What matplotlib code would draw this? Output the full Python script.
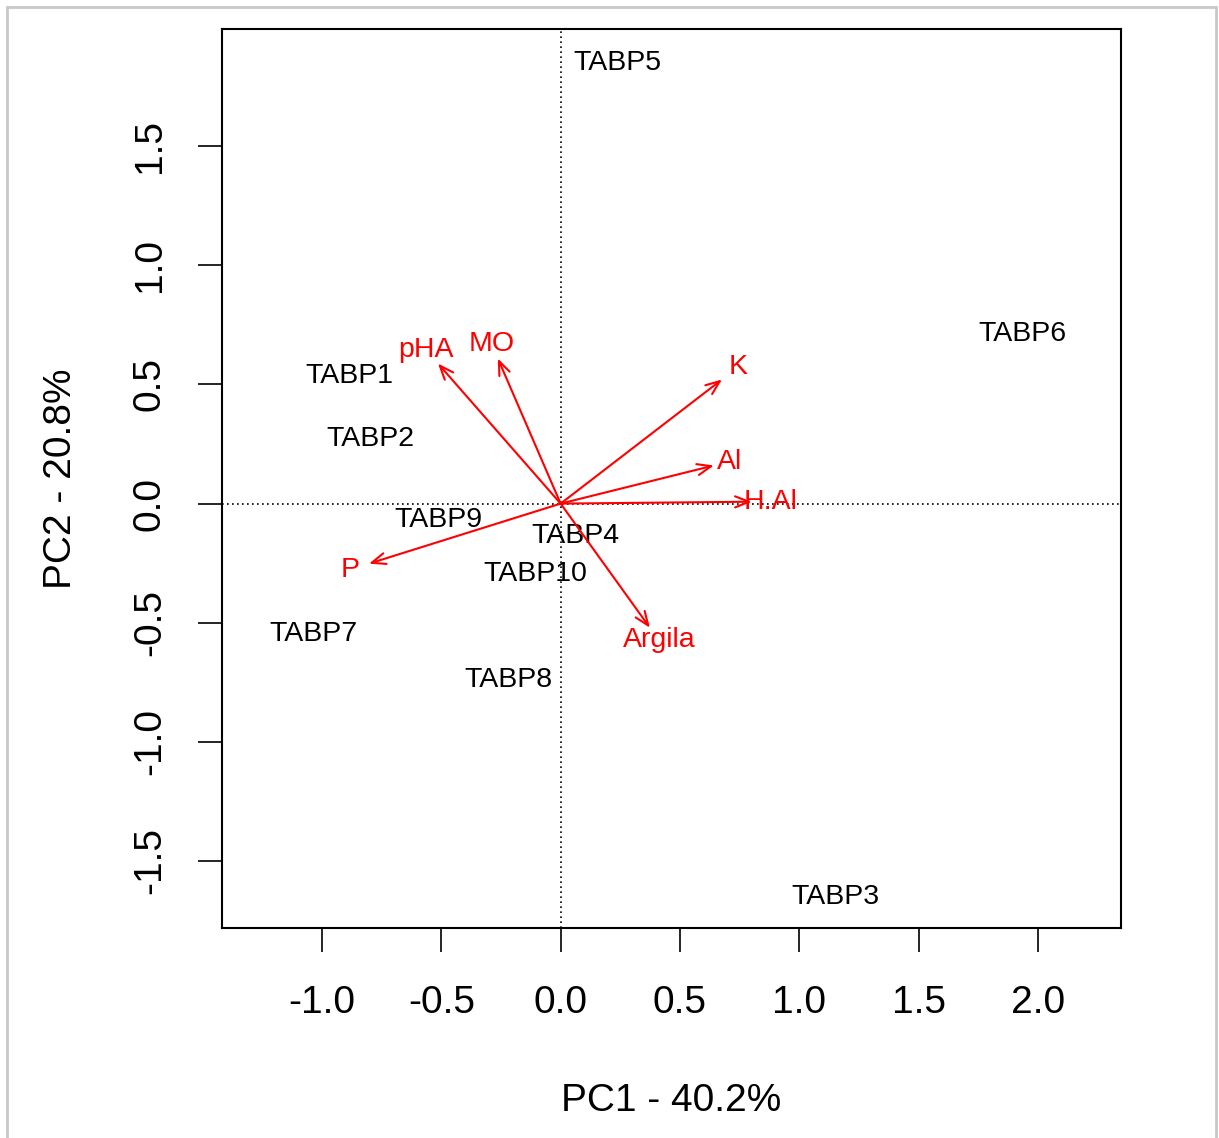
import matplotlib.pyplot as plt
from matplotlib.patches import Rectangle

plt.rcParams['font.family'] = ['Liberation Sans', 'DejaVu Sans']

# Escores das amostras (PC1, PC2)
amostras = ['TABP1', 'TABP2', 'TABP3', 'TABP4', 'TABP5',
            'TABP6', 'TABP7', 'TABP8', 'TABP9', 'TABP10']
pc1 = [-0.887, -0.799, 1.153, 0.064, 0.236, 1.933, -1.034, -0.217, -0.510, -0.107]
pc2 = [0.534, 0.273, -1.651, -0.134, 1.849, 0.710, -0.546, -0.739, -0.067, -0.294]

# Cargas das variaveis (pontas das setas)
variaveis = ['pHA', 'MO', 'K', 'Al', 'H.Al', 'P', 'Argila']
carga1 = [-0.514, -0.263, 0.676, 0.642, 0.801, -0.803, 0.374]
carga2 = [0.588, 0.609, 0.521, 0.160, 0.008, -0.252, -0.521]

fig = plt.figure(figsize=(12.19, 11.38), dpi=100)
ax = fig.add_axes([0.1821, 0.1846, 0.7375, 0.7899])

# moldura cinza da captura
fig.patches.append(Rectangle((0.0057, -0.02), 0.9917, 1.014, transform=fig.transFigure,
                             fill=False, edgecolor='#c8c8c8', linewidth=2))

ax.set_xlim(-1.419, 2.348)
ax.set_ylim(-1.781, 1.992)

ax.axhline(0, color='black', linestyle=(0, (1, 2)), linewidth=1.2)
ax.axvline(0, color='black', linestyle=(0, (1, 2)), linewidth=1.2)

for nome, x, y in zip(amostras, pc1, pc2):
    ax.text(x, y, nome, fontsize=20.5, ha='center', va='center', color='black')

for nome, x, y in zip(variaveis, carga1, carga2):
    ax.annotate('', xy=(x, y), xytext=(0, 0),
                arrowprops=dict(arrowstyle='->,head_length=1.0,head_width=0.4',
                                color='red', lw=1.5, shrinkA=0, shrinkB=0))
    ax.text(1.1 * x, 1.1 * y, nome, fontsize=20.5, ha='center', va='center', color='red')

ax.set_xticks([-1.0, -0.5, 0.0, 0.5, 1.0, 1.5, 2.0])
ax.set_yticks([-1.5, -1.0, -0.5, 0.0, 0.5, 1.0, 1.5])
ax.set_xticklabels(['-1.0', '-0.5', '0.0', '0.5', '1.0', '1.5', '2.0'])
ax.set_yticklabels(['-1.5', '-1.0', '-0.5', '0.0', '0.5', '1.0', '1.5'],
                   rotation=90, va='center')
ax.tick_params(axis='both', labelsize=28, length=17, width=1.2, direction='out')
ax.tick_params(axis='x', pad=24)
ax.tick_params(axis='y', pad=22)

for s in ax.spines.values():
    s.set_linewidth(1.5)

ax.set_xlabel('PC1 - 40.2%', fontsize=28, labelpad=45)
ax.set_ylabel('PC2 - 20.8%', fontsize=28, labelpad=38)

plt.savefig('out.png', dpi=100)
